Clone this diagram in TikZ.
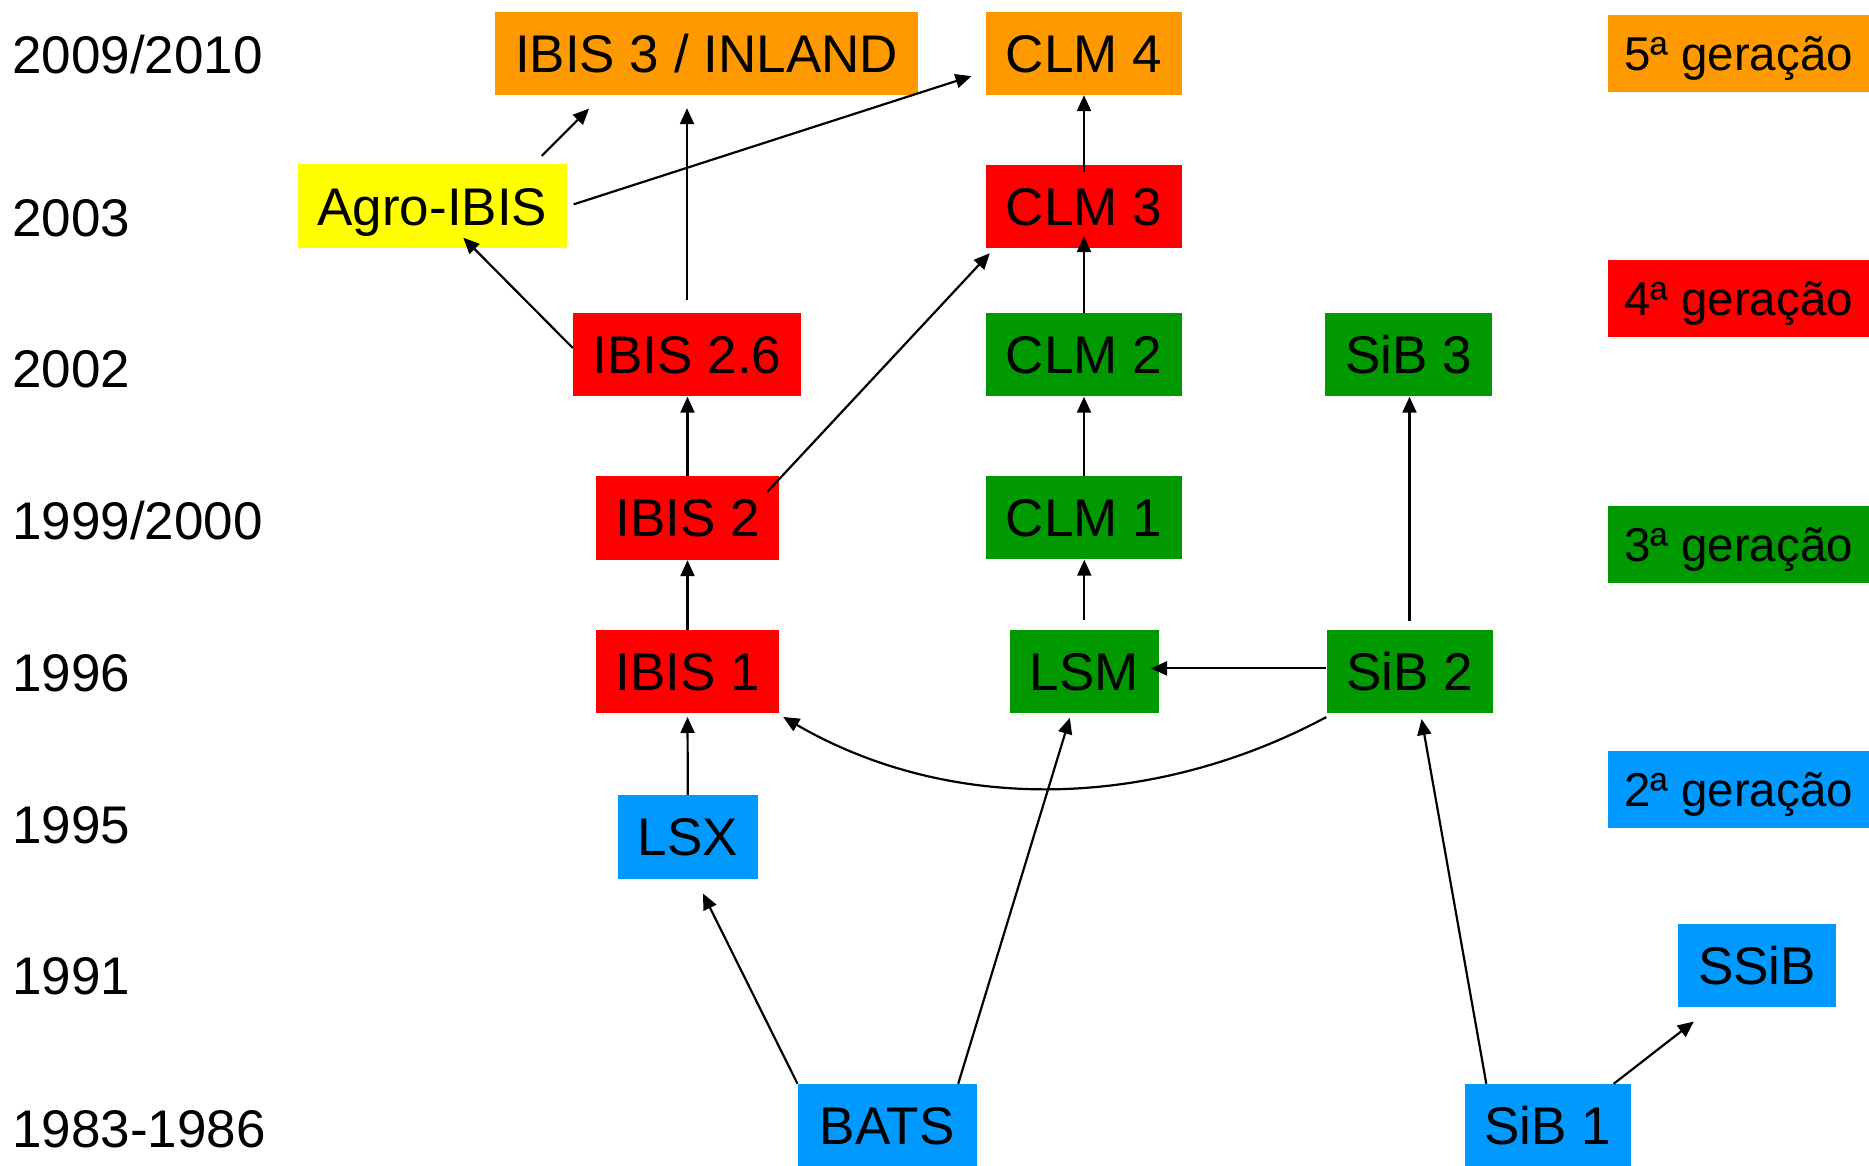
\documentclass[tikz,border=0pt]{standalone}
\usepackage{fontspec}
\setmainfont{Liberation Sans}
\usepackage{tikz}
\usetikzlibrary{arrows.meta, calc}

\definecolor{genfive}{HTML}{FF9900}
\definecolor{genfour}{HTML}{FF0000}
\definecolor{genthree}{HTML}{009900}
\definecolor{gentwo}{HTML}{0099FF}
\definecolor{agroyellow}{HTML}{FFFF00}

\tikzset{
    model/.style={rectangle, inner sep=0pt, minimum height=83pt, text height=38pt, text depth=0pt,
        font=\fontsize{53}{60}\selectfont},
    genlabel/.style={rectangle, inner sep=0pt, minimum width=261pt, minimum height=77pt,
        text height=34pt, text depth=0pt, font=\fontsize{47.5}{55}\selectfont},
    year/.style={anchor=west, inner sep=0pt, text height=38pt, text depth=0pt,
        font=\fontsize{53}{60}\selectfont},
    link/.style={line width=2.2pt, -{Triangle[length=16pt, width=14pt]}}
}

\begin{document}
\begin{tikzpicture}[x=1pt, y=1pt]
    \useasboundingbox (0,0) rectangle (1869,1165);

    % Years
    \node[year] (yA) at (12,1110) {2009/2010};
    \node[year] (yB) at (12,947) {2003};
    \node[year] (yC) at (12,796) {2002};
    \node[year] (yD) at (12,644) {1999/2000};
    \node[year] (yE) at (12,492.5) {1996};
    \node[year] (yF) at (12,340) {1995};
    \node[year] (yG) at (12,189) {1991};
    \node[year] (yH) at (12,37) {1983-1986};

    % Models
    \node[model, fill=genfive, minimum width=423pt] (ibisiii) at (706.5,1111.5) {IBIS 3 / INLAND};
    \node[model, fill=genfive, minimum width=196pt] (clmiv) at (1084,1111.5) {CLM 4};
    \node[model, fill=agroyellow, minimum width=269pt, minimum height=84pt] (agro) at (432.3,958.5) {Agro-IBIS};
    \node[model, fill=genfour, minimum width=196pt] (clmiii) at (1084,958.5) {CLM 3};
    \node[model, fill=genfour, minimum width=228pt] (ibisxxvi) at (687,810) {IBIS 2.6};
    \node[model, fill=genthree, minimum width=196pt] (clmii) at (1084,810) {CLM 2};
    \node[model, fill=genthree, minimum width=167pt] (sibiii) at (1408.5,810) {SiB 3};
    \node[model, fill=genfour, minimum width=183pt, minimum height=84pt] (ibisii) at (687.5,647) {IBIS 2};
    \node[model, fill=genthree, minimum width=196pt] (clmi) at (1084,647) {CLM 1};
    \node[model, fill=genfour, minimum width=183pt] (ibisi) at (687.5,493.7) {IBIS 1};
    \node[model, fill=genthree, minimum width=149pt] (lsm) at (1084.3,493.6) {LSM};
    \node[model, fill=genthree, minimum width=166pt] (sibii) at (1409.5,493.6) {SiB 2};
    \node[model, fill=gentwo, minimum width=140pt, minimum height=84pt] (lsx) at (687.8,328) {LSX};
    \node[model, fill=gentwo, minimum width=158pt] (ssib) at (1757,199.3) {SSiB};
    \node[model, fill=gentwo, minimum width=179pt] (bats) at (887.2,39.5) {BATS};
    \node[model, fill=gentwo, minimum width=166pt] (sibi) at (1547.5,39.5) {SiB 1};

    % Generations
    \node[genlabel, fill=genfive] (gv) at (1738.5,1111.5) {5ª geração};
    \node[genlabel, fill=genfour] (giv) at (1738.5,866) {4ª geração};
    \node[genlabel, fill=genthree] (giii) at (1738.5,620.8) {3ª geração};
    \node[genlabel, fill=gentwo] (gii) at (1738.5,375) {2ª geração};

    % IBIS line
    \draw[link, shorten >=4pt] (lsx.north) -- (ibisi.south);
    \draw[link] (ibisi.north) -- (ibisii.south);
    \draw[link] (ibisii.north) -- (ibisii.north |- ibisxxvi.south);
    \draw[link, shorten <=13pt, shorten >=13pt] (ibisxxvi.north) -- (ibisxxvi.north |- ibisiii.south);
    \draw[link] ([yshift=7pt]ibisxxvi.west) -- ([xshift=31pt, yshift=11pt]agro.south);
    \draw[link, shorten <=12pt, shorten >=19pt] ([xshift=101pt]agro.north) -- ([xshift=-104pt]ibisiii.south);
    \draw[link, shorten <=7pt, shorten >=15pt] (agro.east) -- ([yshift=-18pt]clmiv.west);
    \draw[link] ([xshift=-12pt, yshift=26pt]ibisii.east) -- ([xshift=4pt, yshift=-5pt]clmiii.south west);

    % CLM line
    \draw[link, shorten <=10pt] (lsm.north) -- (lsm.north |- clmi.south);
    \draw[link] (clmi.north) -- (clmii.south);
    \draw[link, shorten >=-12pt] (clmii.north) -- (clmiii.south);
    \draw[link, shorten <=-7pt] (clmiii.north) -- (clmiv.south);

    % SiB line
    \draw[link, shorten >=-8pt] ([yshift=3pt]sibii.west) -- ([yshift=3pt]lsm.east);
    \draw[link, shorten <=9pt] (sibii.north) -- (sibii.north |- sibiii.south);
    \draw[link] ([yshift=-4pt]sibii.south west) .. controls +(-172,-92) and +(169,-98) .. ([xshift=4pt, yshift=-4pt]ibisi.south east);
    \draw[link, shorten >=6pt] ([xshift=22pt]sibi.north west) -- ([xshift=11pt]sibii.south);
    \draw[link, shorten >=23pt] ([xshift=-17pt]sibi.north east) -- ([xshift=-45pt]ssib.south);

    % BATS
    \draw[link, shorten >=16pt] (bats.north west) -- ([xshift=8pt]lsx.south);
    \draw[link, shorten >=5pt] ([xshift=71pt]bats.north) -- ([xshift=-13pt]lsm.south);
\end{tikzpicture}
\end{document}
